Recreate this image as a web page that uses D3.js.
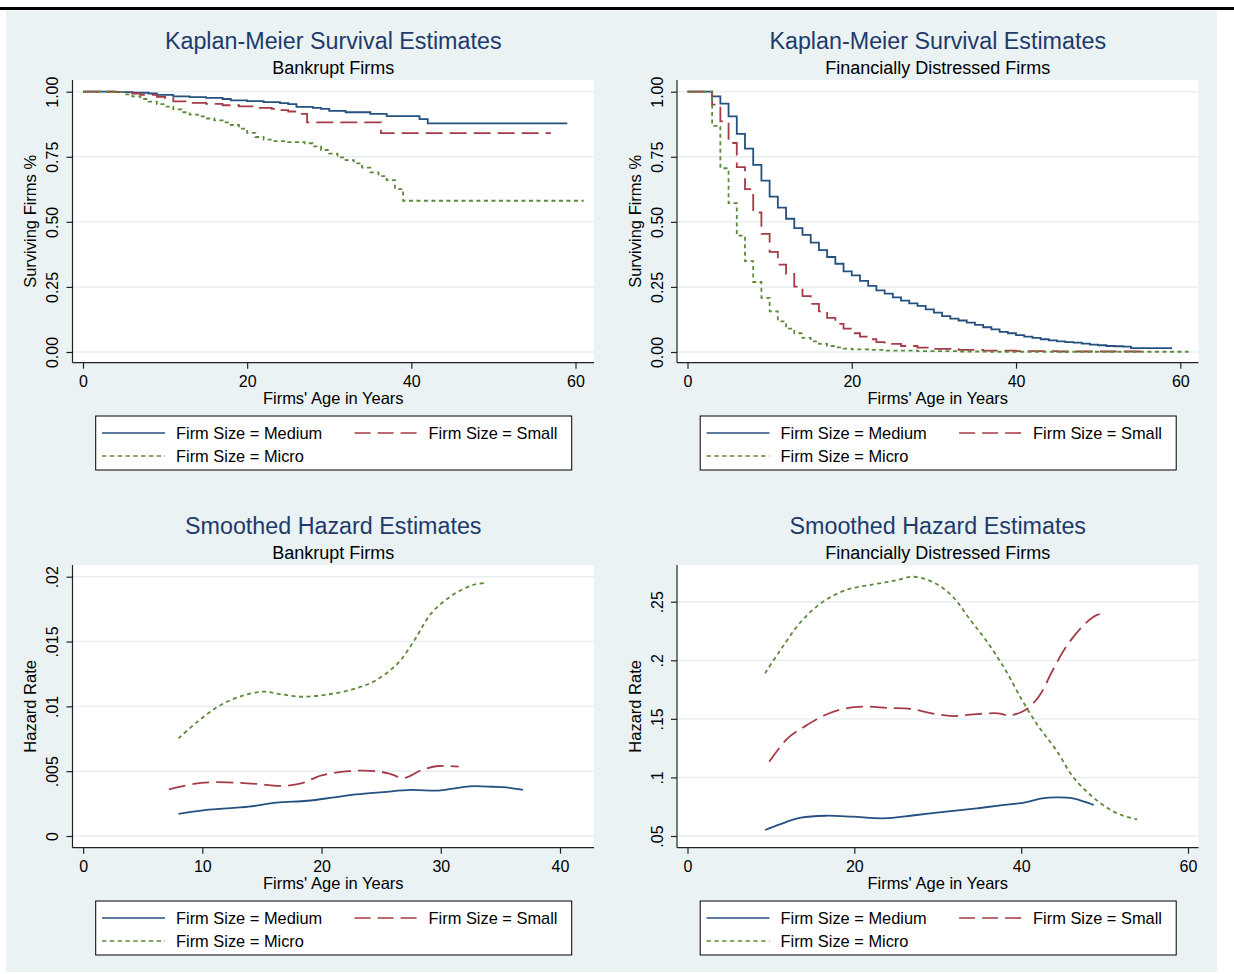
<!DOCTYPE html>
<meta charset="utf-8">
<style>

body {
  margin: 0;
  background: #fff;
}

svg text {
  font-family: "Liberation Sans", Arial, sans-serif;
  fill: #000;
}

.title text.main { fill: #1f3a6b; }

.grid line {
  stroke: #e6eef1;
  stroke-width: 1.4;
}

.axis .tick line,
.frame line {
  stroke: #222;
  stroke-width: 1.2;
}

.series path {
  fill: none;
  stroke-width: 1.8;
}

</style>
<svg width="1234" height="974"></svg>
<script src="https://d3js.org/d3.v7.min.js"></script>
<script>

// tick values
var xTicksKM = [0, 20, 40, 60],
    xTicksBankHaz = [0, 10, 20, 30, 40],
    xTicksDistHaz = [0, 20, 40, 60],
    yTicksKM = [0, 0.25, 0.5, 0.75, 1],
    yTicksBankHaz = [0, 0.005, 0.01, 0.015, 0.02],
    yTicksDistHaz = [0.05, 0.1, 0.15, 0.2, 0.25];

var seriesNames = ["Firm Size = Medium", "Firm Size = Small", "Firm Size = Micro"];

// Kaplan-Meier, bankrupt firms (time, survival)
var bankMediumT = [0, 4, 6, 8, 9, 11, 13, 15, 17, 18, 20, 22, 24, 25, 26, 28, 29, 30, 32, 35, 37, 41, 42, 59],
    bankMediumS = [1, 0.998, 0.996, 0.993, 0.988, 0.982, 0.979, 0.976, 0.972, 0.967, 0.964, 0.96, 0.956, 0.952, 0.942, 0.938, 0.934, 0.926, 0.921, 0.915, 0.906, 0.895, 0.878, 0.878];
var bankSmallT = [0, 4, 6, 7, 9, 10, 11, 13, 15, 17, 19, 21, 23, 24, 25, 26, 27.3, 36.3, 57],
    bankSmallS = [1, 0.998, 0.993, 0.988, 0.98, 0.975, 0.963, 0.957, 0.953, 0.948, 0.944, 0.938, 0.934, 0.929, 0.924, 0.915, 0.882, 0.841, 0.841];
var bankMicroT = [0, 3, 5, 6, 7, 8, 9, 10, 11, 12, 13, 14, 15, 16, 17, 18, 19, 20, 21, 22, 23, 25, 27, 28, 29, 30, 31, 32, 33, 34, 35, 36, 37, 38, 39, 61],
    bankMicroS = [1, 0.998, 0.99, 0.982, 0.972, 0.962, 0.952, 0.943, 0.932, 0.921, 0.912, 0.905, 0.897, 0.89, 0.882, 0.872, 0.858, 0.842, 0.826, 0.816, 0.81, 0.806, 0.802, 0.79, 0.776, 0.762, 0.748, 0.737, 0.725, 0.708, 0.69, 0.676, 0.66, 0.626, 0.581, 0.581];

// Kaplan-Meier, financially distressed firms
var distMediumT = [0, 3, 4, 5, 6, 7, 8, 9, 10, 11, 12, 13, 14, 15, 16, 17, 18, 19, 20, 21, 22, 23, 24, 25, 26, 27, 28, 29, 30, 31, 32, 33, 34, 35, 36, 37, 38, 39, 40, 41, 42, 43, 44, 45, 46, 47, 48, 49, 50, 51, 52, 53, 54, 59],
    distMediumS = [1, 0.982, 0.954, 0.905, 0.838, 0.781, 0.719, 0.658, 0.597, 0.555, 0.512, 0.476, 0.45, 0.42, 0.391, 0.365, 0.339, 0.31, 0.294, 0.273, 0.254, 0.237, 0.224, 0.21, 0.197, 0.187, 0.177, 0.164, 0.151, 0.138, 0.128, 0.121, 0.113, 0.104, 0.095, 0.087, 0.077, 0.072, 0.065, 0.059, 0.054, 0.049, 0.045, 0.041, 0.038, 0.036, 0.032, 0.028, 0.026, 0.023, 0.022, 0.021, 0.015, 0.015];
var distSmallT = [0, 3, 4, 5, 6, 7, 8, 9, 10, 11, 12, 13, 14, 15, 16, 17, 18, 19, 20, 21, 22, 23, 24, 26, 28, 30, 33, 36, 40, 45, 56],
    distSmallS = [1, 0.95, 0.886, 0.803, 0.71, 0.626, 0.536, 0.454, 0.385, 0.336, 0.3, 0.251, 0.215, 0.185, 0.156, 0.131, 0.108, 0.09, 0.072, 0.059, 0.049, 0.038, 0.031, 0.023, 0.017, 0.012, 0.008, 0.005, 0.003, 0.002, 0.002];
var distMicroT = [0, 3, 4, 5, 6, 7, 8, 9, 10, 11, 12, 13, 14, 15, 16, 17, 18, 19, 20, 22, 24, 28, 33, 37, 61],
    distMicroS = [1, 0.869, 0.706, 0.572, 0.447, 0.349, 0.269, 0.208, 0.156, 0.118, 0.09, 0.072, 0.054, 0.041, 0.031, 0.023, 0.018, 0.013, 0.01, 0.008, 0.005, 0.003, 0.002, 0.001, 0.001];

// smoothed hazard, bankrupt firms (age, rate)
var hazBankMediumT = [8.0, 10.2, 13.9, 16.2, 18.8, 20.9, 22.9, 25.2, 27.5, 29.8, 31.0, 32.4, 34.4, 35.5, 36.9],
    hazBankMediumH = [0.0017, 0.002, 0.00226, 0.00257, 0.00272, 0.00296, 0.00321, 0.00339, 0.00355, 0.0035, 0.00365, 0.00383, 0.0038, 0.00375, 0.00355];
var hazBankSmallT = [7.2, 9.9, 13.1, 14.8, 16.5, 18.3, 20.0, 22.3, 24.6, 25.8, 26.9, 28.4, 29.8, 31.5],
    hazBankSmallH = [0.0036, 0.0041, 0.0041, 0.004, 0.00386, 0.00406, 0.00468, 0.005, 0.005, 0.00478, 0.00447, 0.00509, 0.0054, 0.00535];
var hazBankMicroT = [8.0, 9.6, 11.3, 13.1, 15.1, 16.5, 18.3, 20.6, 22.9, 24.6, 26.4, 27.8, 29.2, 31.0, 32.7, 33.9],
    hazBankMicroH = [0.00753, 0.00882, 0.00997, 0.01074, 0.01113, 0.01095, 0.01074, 0.01093, 0.01139, 0.01203, 0.01332, 0.01512, 0.01717, 0.01859, 0.01936, 0.01953];

// smoothed hazard, financially distressed firms
var hazDistMediumT = [9.3, 11.15, 13.6, 16.5, 19.8, 23.5, 27.2, 31.0, 34.7, 38.0, 40.5, 42.5, 44.2, 46.2, 48.7],
    hazDistMediumH = [0.0551, 0.0602, 0.0656, 0.0673, 0.0665, 0.0651, 0.0677, 0.0708, 0.0736, 0.0765, 0.0788, 0.0822, 0.083, 0.0822, 0.0765];
var hazDistSmallT = [9.8, 12.0, 14.0, 16.5, 19.0, 21.5, 24.0, 26.8, 29.3, 31.8, 34.7, 37.2, 38.6, 40.5, 42.1, 43.8, 45.4, 47.5, 49.1, 50.2],
    hazDistSmallH = [0.1134, 0.1334, 0.1433, 0.1533, 0.159, 0.1604, 0.1593, 0.1584, 0.1547, 0.1524, 0.1541, 0.1547, 0.153, 0.1576, 0.1689, 0.1917, 0.2116, 0.2301, 0.2387, 0.2401];
var hazDistMicroT = [9.3, 11.15, 13.6, 16.1, 19.0, 22.3, 24.8, 27.2, 29.7, 31.8, 33.9, 35.9, 38.0, 40.1, 42.1, 44.2, 46.2, 48.3, 50.4, 52.0, 53.9],
    hazDistMicroH = [0.189, 0.2088, 0.2329, 0.2492, 0.26, 0.2648, 0.2679, 0.2713, 0.2657, 0.2543, 0.2344, 0.2159, 0.1931, 0.1661, 0.1433, 0.1234, 0.1006, 0.085, 0.0736, 0.0679, 0.0642];

var zip = function(xs, ys) { return xs.map(function(x, i) { return [x, ys[i]]; }); };

var hazFmt = function(d) { return d === 0 ? "0" : String(d).replace(/^0/, ""); };

var panels = [
  { ox: 6, oy: 10, title: "Kaplan-Meier Survival Estimates", sub: "Bankrupt Firms", ytitle: "Surviving Firms %",
    xticks: xTicksKM, xpx: [77, 569.5], yticks: yTicksKM, ypx: [342, 81.7], fmt: d3.format(".2f"), step: true,
    lines: [zip(bankMediumT, bankMediumS), zip(bankSmallT, bankSmallS), zip(bankMicroT, bankMicroS)] },
  { ox: 610.5, oy: 10, title: "Kaplan-Meier Survival Estimates", sub: "Financially Distressed Firms", ytitle: "Surviving Firms %",
    xticks: xTicksKM, xpx: [77, 569.8], yticks: yTicksKM, ypx: [342, 81.7], fmt: d3.format(".2f"), step: true,
    lines: [zip(distMediumT, distMediumS), zip(distSmallT, distSmallS), zip(distMicroT, distMicroS)] },
  { ox: 6, oy: 495, title: "Smoothed Hazard Estimates", sub: "Bankrupt Firms", ytitle: "Hazard Rate",
    xticks: xTicksBankHaz, xpx: [77.1, 554], yticks: yTicksBankHaz, ypx: [341, 81.7], fmt: hazFmt, step: false,
    lines: [zip(hazBankMediumT, hazBankMediumH), zip(hazBankSmallT, hazBankSmallH), zip(hazBankMicroT, hazBankMicroH)] },
  { ox: 610.5, oy: 495, title: "Smoothed Hazard Estimates", sub: "Financially Distressed Firms", ytitle: "Hazard Rate",
    xticks: xTicksDistHaz, xpx: [77, 577.5], yticks: yTicksDistHaz, ypx: [341, 106.7], fmt: hazFmt, step: false,
    lines: [zip(hazDistMediumT, hazDistMediumH), zip(hazDistSmallT, hazDistSmallH), zip(hazDistMicroT, hazDistMicroH)] }
];

var styles = [
  { color: "#25507f", dash: null, legendDash: null },
  { color: "#a63b48", dash: "17,7", legendDash: "16,7" },
  { color: "#5d8a3a", dash: "4,3.5", legendDash: "4.5,3.3" }
];

var plot = { left: 66.5, right: 588, top: 70, bottom: 352.7 },
    midX = (plot.left + plot.right) / 2,
    midY = (plot.top + plot.bottom) / 2,
    legendBox = { x: 89.7, y: 406, w: 476, h: 54 };

var svg = d3.select("svg");

// black rule and graph region
svg.append("rect").attr("x", 0).attr("y", 7).attr("width", 1234).attr("height", 3).attr("fill", "#000");
svg.append("rect").attr("x", 6).attr("y", 10).attr("width", 1211).attr("height", 962).attr("fill", "#eaf2f3");

panels.forEach(function(p) {

  var g = svg.append("g").attr("transform", "translate(" + p.ox + "," + p.oy + ")");

  var x = d3.scaleLinear().domain([p.xticks[0], p.xticks[p.xticks.length - 1]]).range(p.xpx),
      y = d3.scaleLinear().domain([p.yticks[0], p.yticks[p.yticks.length - 1]]).range(p.ypx);

  // titles
  var t = g.append("g").attr("class", "title").attr("text-anchor", "middle");
  t.append("text").attr("class", "main").attr("x", midX).attr("y", 39)
      .style("font-size", "23.3px").text(p.title);
  t.append("text").attr("x", midX).attr("y", 64)
      .style("font-size", "18px").text(p.sub);

  // plot region
  g.append("rect")
      .attr("x", plot.left).attr("y", plot.top)
      .attr("width", plot.right - plot.left).attr("height", plot.bottom - plot.top)
      .attr("fill", "#fff");

  g.append("g").attr("class", "grid")
    .selectAll("line")
      .data(p.yticks)
    .enter().append("line")
      .attr("x1", plot.left).attr("x2", plot.right)
      .attr("y1", function(d) { return y(d); })
      .attr("y2", function(d) { return y(d); });

  // curves
  var line = d3.line()
      .x(function(d) { return x(d[0]); })
      .y(function(d) { return y(d[1]); })
      .curve(p.step ? d3.curveStepAfter : d3.curveCatmullRom.alpha(0.5));

  g.append("g").attr("class", "series")
    .selectAll("path")
      .data(p.lines)
    .enter().append("path")
      .attr("d", line)
      .attr("stroke", function(d, i) { return styles[i].color; })
      .attr("stroke-dasharray", function(d, i) { return styles[i].dash; });

  // axes
  var xAxis = g.append("g").attr("class", "axis")
      .attr("transform", "translate(0," + plot.bottom + ")")
      .call(d3.axisBottom(x).tickValues(p.xticks).tickSize(6).tickSizeOuter(0).tickFormat(d3.format("d")));
  xAxis.select(".domain").remove();
  xAxis.selectAll("text").attr("y", 24).attr("dy", null).style("font-size", "16px");

  var yAxis = g.append("g").attr("class", "axis")
      .attr("transform", "translate(" + plot.left + ",0)")
      .call(d3.axisLeft(y).tickValues(p.yticks).tickSize(6).tickSizeOuter(0).tickFormat(p.fmt));
  yAxis.select(".domain").remove();
  yAxis.selectAll("text")
      .attr("x", null).attr("dy", null)
      .attr("text-anchor", "middle")
      .attr("transform", "translate(-14.3,0) rotate(-90)")
      .style("font-size", "16px");

  var frame = g.append("g").attr("class", "frame");
  frame.append("line").attr("x1", plot.left).attr("x2", plot.left).attr("y1", plot.top).attr("y2", plot.bottom);
  frame.append("line").attr("x1", plot.left).attr("x2", plot.right).attr("y1", plot.bottom).attr("y2", plot.bottom);

  // axis titles
  g.append("text")
      .attr("x", midX).attr("y", plot.bottom + 41)
      .attr("text-anchor", "middle")
      .style("font-size", "16.5px")
      .text("Firms' Age in Years");

  g.append("text")
      .attr("transform", "translate(30," + midY + ") rotate(-90)")
      .attr("text-anchor", "middle")
      .style("font-size", "16.5px")
      .text(p.ytitle);

  // legend
  var lg = g.append("g").attr("transform", "translate(" + legendBox.x + "," + legendBox.y + ")");
  lg.append("rect")
      .attr("width", legendBox.w).attr("height", legendBox.h)
      .attr("fill", "#fff").attr("stroke", "#000").attr("stroke-width", 1);

  var item = lg.selectAll(".key")
      .data(seriesNames)
    .enter().append("g")
      .attr("class", "key")
      .attr("transform", function(d, i) { return "translate(" + (i === 1 ? 252.6 : 0) + "," + (i === 2 ? 40 : 17) + ")"; });

  item.append("line")
      .attr("x1", 6.3).attr("x2", 69.3)
      .attr("stroke", function(d, i) { return styles[i].color; })
      .attr("stroke-width", 1.6)
      .attr("stroke-dasharray", function(d, i) { return styles[i].legendDash; });

  item.append("text")
      .attr("x", 80.3).attr("y", 5.8)
      .style("font-size", "16.4px")
      .text(function(d) { return d; });
});

</script>
